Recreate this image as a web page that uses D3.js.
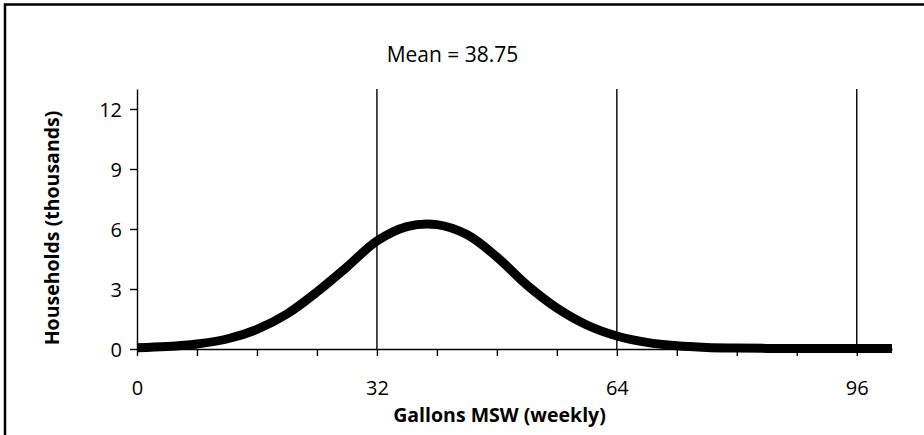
<!DOCTYPE html>
<html>
<head>
<meta charset="utf-8">
<script src="https://cdn.jsdelivr.net/npm/d3@7"></script>
<style>
  html, body { margin: 0; padding: 0; background: #fff; }
  svg { display: block; }
</style>
</head>
<body>
<div id="chart"></div>
<script>
// Households (thousands) by weekly gallons of MSW
const GALLONS    = [0, 4, 8, 12, 16, 20, 24, 28, 32, 36, 40, 44, 48, 52, 56, 60, 64, 68, 72, 76, 80, 84, 88, 92, 96, 100.7]
const HOUSEHOLDS = [0.06, 0.12, 0.25, 0.5, 0.98, 1.75, 2.85, 4.1, 5.4, 6.12, 6.22, 5.72, 4.6, 3.2, 2.05, 1.2, 0.65, 0.33, 0.16, 0.08, 0.05, 0.03, 0.02, 0.02, 0.02, 0.02]

const X_LABELS = [0, 32, 64, 96]
const X_TICKS  = [0, 8, 16, 24, 32, 40, 48, 56, 64, 72, 80, 88, 96]
const X_GRID   = [32, 64, 96]
const Y_TICKS  = [0, 3, 6, 9, 12]

const MEAN_LABEL = "Mean = 38.75"
const X_TITLE = "Gallons MSW (weekly)"
const Y_TITLE = "Households (thousands)"

const width = 924
const height = 435
const plot = { left: 137, right: 892, top: 89, bottom: 349 }
const font = "'Open Sans', 'Noto Sans', sans-serif"

const x = d3.scaleLinear().domain([0, 100.7]).range([plot.left, plot.right])
const y = d3.scaleLinear().domain([0, 13]).range([plot.bottom, plot.top])

const svg = d3.select("#chart")
  .append("svg")
  .attr("width", width)
  .attr("height", height)
  .style("background", "#fff")

// Frame: only the top and left edges show in the scan
svg.append("path")
  .attr("d", `M5,435 V4.5 H924`)
  .attr("fill", "none")
  .attr("stroke", "#000")
  .attr("stroke-width", 2.5)

// Vertical gridlines
svg.selectAll(".grid")
  .data(X_GRID)
  .enter()
  .append("line")
  .attr("class", "grid")
  .attr("x1", d => x(d))
  .attr("x2", d => x(d))
  .attr("y1", y(13))
  .attr("y2", y(0))
  .attr("stroke", "#000")
  .attr("stroke-width", 1.4)

// Y axis
const yAxis = svg.append("g")
  .attr("transform", `translate(${plot.left},0)`)
  .call(d3.axisLeft(y).tickValues(Y_TICKS).tickSize(7).tickSizeOuter(0).tickPadding(8))
yAxis.attr("font-family", font).attr("font-size", 20)
yAxis.select(".domain").attr("stroke-width", 1.4)
yAxis.selectAll(".tick line").attr("stroke-width", 1.4)
yAxis.selectAll(".tick text").attr("fill", "#000").attr("dy", "0.36em")

// X axis: minor ticks every 8, labels every 32
const xAxis = svg.append("g")
  .attr("transform", `translate(0,${plot.bottom})`)
  .call(d3.axisBottom(x)
    .tickValues(X_TICKS)
    .tickSize(7)
    .tickSizeOuter(0)
    .tickFormat(d => X_LABELS.includes(d) ? d : ""))
xAxis.attr("font-family", font).attr("font-size", 20)
xAxis.select(".domain").attr("stroke-width", 1.4)
xAxis.selectAll(".tick line").attr("stroke-width", 1.4)
xAxis.selectAll(".tick text").attr("fill", "#000").attr("y", 46).attr("dy", 0)

// Distribution curve
const line = d3.line()
  .x((d, i) => x(GALLONS[i]))
  .y(d => y(d))
  .curve(d3.curveCatmullRom.alpha(0.5))

svg.append("path")
  .datum(HOUSEHOLDS)
  .attr("d", line)
  .attr("fill", "none")
  .attr("stroke", "#000")
  .attr("stroke-width", 9)
  .attr("stroke-linejoin", "round")

// Labels
svg.append("text")
  .attr("x", 452.5)
  .attr("y", 62)
  .attr("text-anchor", "middle")
  .attr("font-family", font)
  .attr("font-size", 21)
  .text(MEAN_LABEL)

svg.append("text")
  .attr("x", 499.5)
  .attr("y", 422)
  .attr("text-anchor", "middle")
  .attr("font-family", font)
  .attr("font-size", 19.5)
  .attr("font-weight", 700)
  .text(X_TITLE)

svg.append("text")
  .attr("transform", `translate(59,228) rotate(-90)`)
  .attr("text-anchor", "middle")
  .attr("font-family", font)
  .attr("font-size", 19.5)
  .attr("font-weight", 700)
  .text(Y_TITLE)
</script>
</body>
</html>
